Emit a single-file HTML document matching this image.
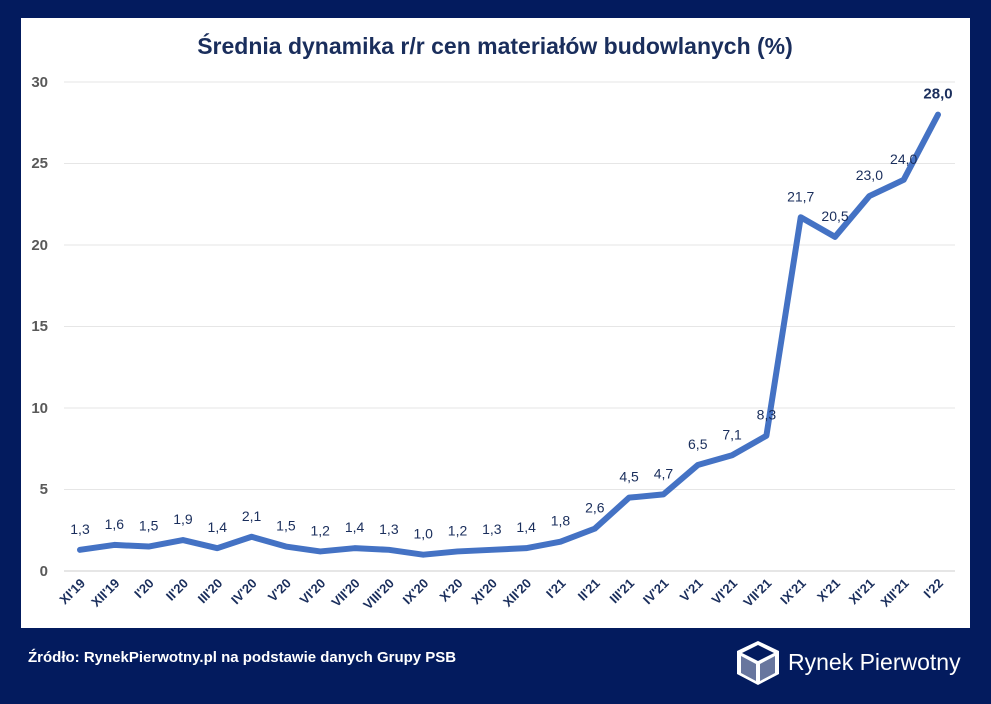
<!DOCTYPE html>
<html><head><meta charset="utf-8"><style>
html,body{margin:0;padding:0;background:#031b5e;}
body{width:991px;height:699px;overflow:hidden;font-family:"Liberation Sans",sans-serif;}
</style></head><body>
<svg width="991" height="699" xmlns="http://www.w3.org/2000/svg" font-family="Liberation Sans, sans-serif">
<rect width="991" height="699" fill="#031b5e"/>
<rect x="21" y="18" width="949" height="610" fill="#fff"/>
<text x="495" y="54" text-anchor="middle" font-size="23" font-weight="bold" fill="#1a2e5c">Średnia dynamika r/r cen materiałów budowlanych (%)</text>
<g stroke="#e6e6e6" stroke-width="1">
<line x1="64" x2="955" y1="82" y2="82"/><line x1="64" x2="955" y1="163.5" y2="163.5"/>
<line x1="64" x2="955" y1="245" y2="245"/><line x1="64" x2="955" y1="326.5" y2="326.5"/>
<line x1="64" x2="955" y1="408" y2="408"/><line x1="64" x2="955" y1="489.5" y2="489.5"/>
</g>
<line x1="64" x2="955" y1="571" y2="571" stroke="#cccccc"/>
<g font-size="15" font-weight="bold" fill="#595959" text-anchor="end">
<text x="48" y="87">30</text><text x="48" y="168">25</text><text x="48" y="250">20</text>
<text x="48" y="331">15</text><text x="48" y="413">10</text><text x="48" y="494">5</text><text x="48" y="576">0</text>
</g>
<polyline fill="none" stroke="#4472c4" stroke-width="6" stroke-linejoin="round" stroke-linecap="round" id="ln" points=""/>
<g id="labs" font-size="14" fill="#1a2e5c" text-anchor="middle"></g>
<g id="xl" font-size="13" font-weight="bold" fill="#1a2e5c" text-anchor="end"></g>
<text x="28" y="662" font-size="15" font-weight="bold" fill="#fff">Źródło: RynekPierwotny.pl na podstawie danych Grupy PSB</text>
<g transform="translate(737,641)" fill="#fff">
<polygon points="21,0 42,10 42,33 21,44 0,33 0,10"/>
<polygon points="21,4 37,12 21,20 5,12" fill="#031b5e"/>
<polygon points="4,15 19,23 19,40 4,32" fill="#031b5e" opacity="0.6"/>
<polygon points="23,23 38,15 38,32 23,40" fill="#031b5e" opacity="0.6"/>
</g>
<text x="788" y="670" font-size="23" fill="#fff">Rynek Pierwotny</text>
</svg>
<script>
var v=[1.3,1.6,1.5,1.9,1.4,2.1,1.5,1.2,1.4,1.3,1.0,1.2,1.3,1.4,1.8,2.6,4.5,4.7,6.5,7.1,8.3,21.7,20.5,23.0,24.0,28.0];
var l=["XI'19","XII'19","I'20","II'20","III'20","IV'20","V'20","VI'20","VII'20","VIII'20","IX'20","X'20","XI'20","XII'20","I'21","II'21","III'21","IV'21","V'21","VI'21","VII'21","IX'21","X'21","XI'21","XII'21","I'22"];
var ns="http://www.w3.org/2000/svg",pts=[],g=document.getElementById('labs'),xg=document.getElementById('xl');
v.forEach(function(d,i){var x=80+i*34.32,y=571-d*16.3;pts.push(x+','+y);
var t=document.createElementNS(ns,'text');t.setAttribute('x',x);t.setAttribute('y',y-16);
if(i==25){t.setAttribute('font-weight','bold');t.setAttribute('font-size','15');}
t.textContent=d.toFixed(1).replace('.',',');g.appendChild(t);
var s=document.createElementNS(ns,'text');s.setAttribute('transform','translate('+(x+6)+',584) rotate(-45)');s.textContent=l[i];xg.appendChild(s);});
document.getElementById('ln').setAttribute('points',pts.join(' '));
</script>
</body></html>
